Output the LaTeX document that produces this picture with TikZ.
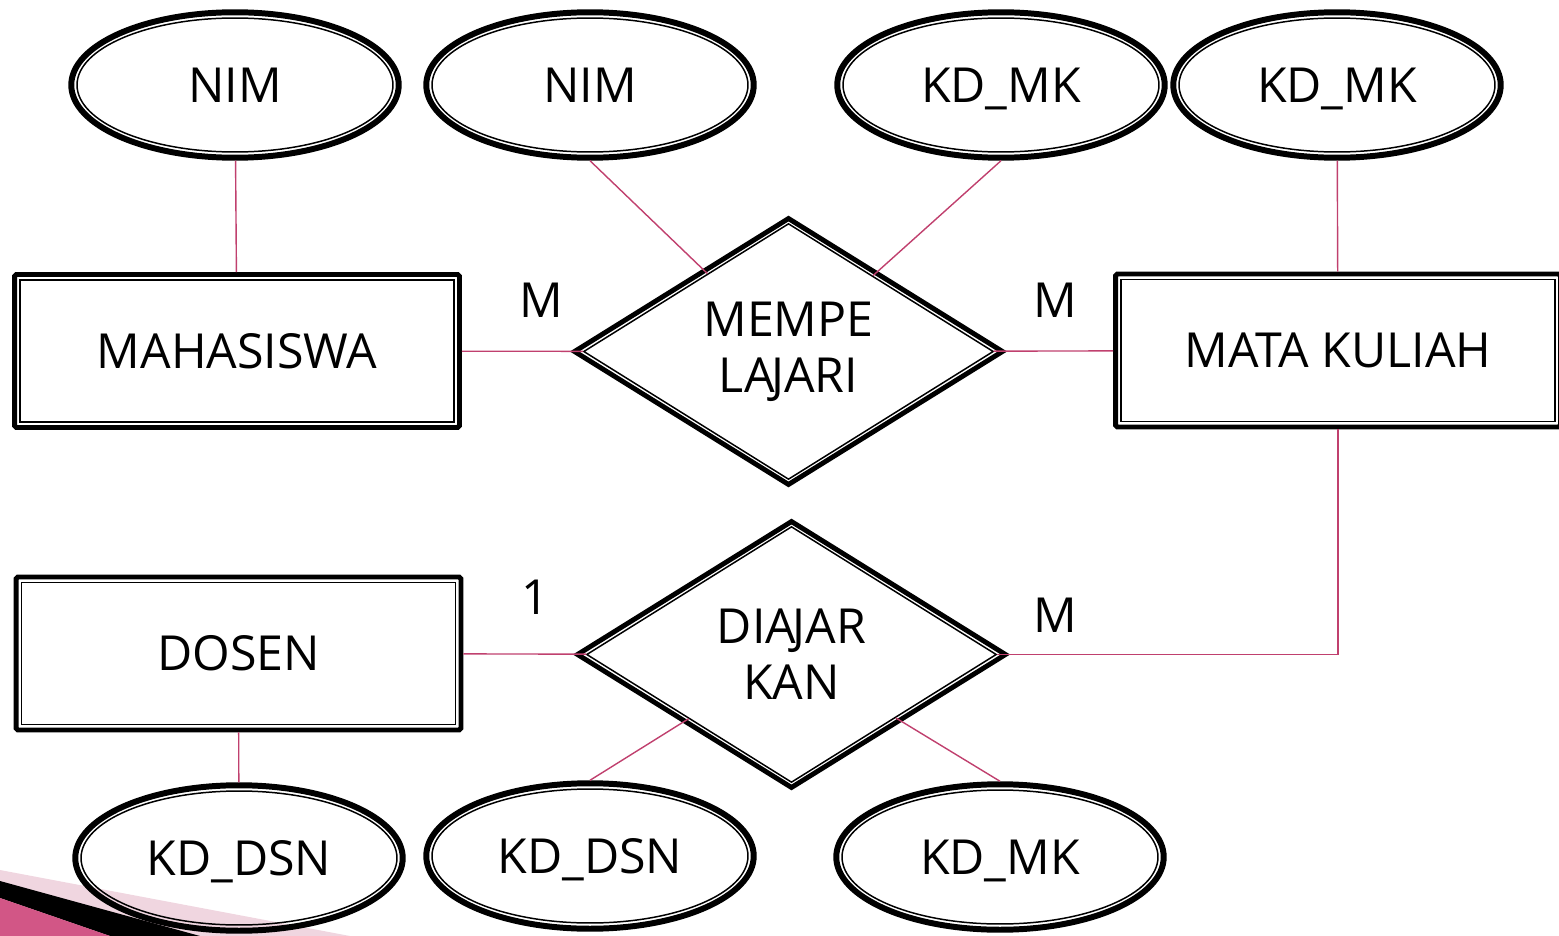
\documentclass[tikz,border=0pt]{standalone}
\usepackage{fontspec}
\setmainfont{Open Sans}
\usetikzlibrary{shapes.geometric}

\definecolor{linkpink}{RGB}{192,64,110}
\definecolor{bandpink}{RGB}{240,214,224}
\definecolor{deeppink}{RGB}{210,86,134}

\begin{document}
\begin{tikzpicture}[x=0.02cm, y=-0.02cm,
  every node/.style={font=\fontsize{27.5}{32}\selectfont, inner sep=0pt},
  attr/.style={ellipse, draw, line width=0.85pt, text depth=0pt, minimum width=6.32cm, minimum height=2.68cm},
  attrrim/.style={ellipse, draw, line width=3.4pt, minimum width=6.55cm, minimum height=2.91cm},
  entity/.style={rectangle, draw, line width=0.85pt, minimum width=8.69cm, minimum height=2.85cm},
  entityrim/.style={rectangle, draw, line width=2.8pt, rounded corners=1pt, minimum width=8.9cm, minimum height=3.06cm},
  rel/.style={diamond, draw, line width=0.85pt, aspect=1.6, align=center, minimum width=8.2cm, minimum height=5.12cm},
  relrim/.style={diamond, draw, line width=2.8pt, aspect=1.6, minimum width=8.6cm, minimum height=5.36cm},
  link/.style={draw=linkpink, line width=0.8pt}]

\useasboundingbox (0,0) rectangle (1559,936);

% slide corner
\fill[bandpink] (0,870) -- (350,936) -- (0,936) -- cycle;
\fill[black] (0,881) -- (200,936) -- (110,936) -- (0,898) -- cycle;
\fill[deeppink] (0,898) -- (110,936) -- (0,936) -- cycle;

% attributes
\node[attrrim] (nim1) at (235,85) {};
\node[attr] (nim1-in) at (nim1) {NIM};
\node[attrrim] (nim2) at (590,85) {};
\node[attr] (nim2-in) at (nim2) {NIM};
\node[attrrim] (kdmk1) at (1001,85) {};
\node[attr] (kdmk1-in) at (kdmk1) {KD\_MK};
\node[attrrim] (kdmk2) at (1337,85) {};
\node[attr] (kdmk2-in) at (kdmk2) {KD\_MK};
\node[attrrim] (kddsn1) at (239,858) {};
\node[attr] (kddsn1-in) at (kddsn1) {KD\_DSN};
\node[attrrim] (kddsn2) at (590,856) {};
\node[attr] (kddsn2-in) at (kddsn2) {KD\_DSN};
\node[attrrim] (kdmk3) at (1000,857) {};
\node[attr] (kdmk3-in) at (kdmk3) {KD\_MK};

% entities
\node[entityrim] (mhs) at (237,351) {};
\node[entity] (mhs-in) at (mhs) {MAHASISWA};
\node[entityrim] (mk) at (1338,350.5) {};
\node[entity] (mk-in) at (mk) {MATA KULIAH};
\node[entityrim] (dsn) at (238.5,653.5) {};
\node[entity] (dsn-in) at (dsn) {DOSEN};

% relations
\node[relrim] (memp) at (788.5,351.5) {};
\node[rel] (memp-in) at (memp) {MEMPE\\LA\kern-0.07em JARI};
\node[relrim] (diaj) at (791.5,654.5) {};
\node[rel] (diaj-in) at (diaj) {DIA\kern-0.07em JAR\\KAN};

% cardinalities
\node (card1) at (541,300) {M};
\node (card2) at (1055,300) {M};
\node (card3) at (535,597) {1};
\node (card4) at (1055,615) {M};

% links
\draw[link] (nim1) -- (mhs);
\draw[link] (nim2.south) -- (memp-in);
\draw[link] (kdmk1.south) -- (memp-in);
\draw[link] (kdmk2) -- (mk);
\draw[link] (mhs) -- (memp-in);
\draw[link] (memp-in) -- (mk);
\draw[link] (mk.south) |- (diaj-in);
\draw[link] (dsn) -- (diaj-in);
\draw[link] (dsn) -- (kddsn1);
\draw[link] (kddsn2.north) -- (diaj-in);
\draw[link] (kdmk3.north) -- (diaj-in);

\end{tikzpicture}
\end{document}
